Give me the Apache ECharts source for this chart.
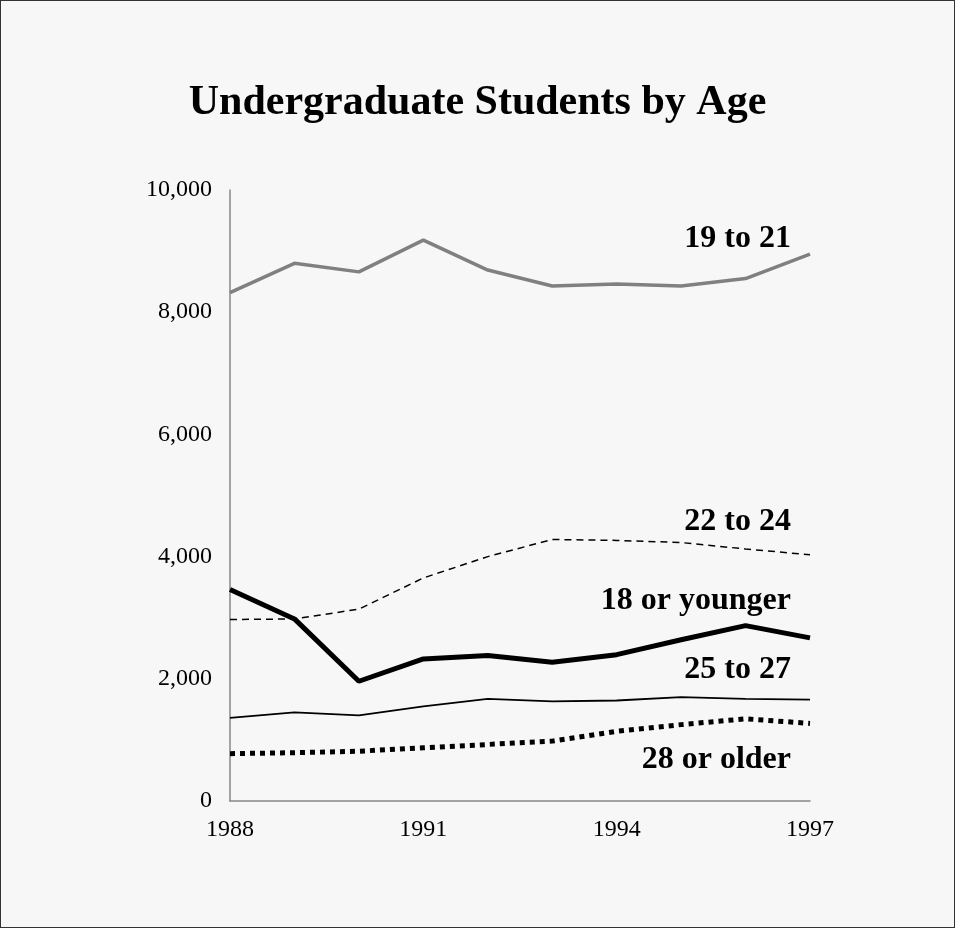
<!DOCTYPE html>
<html>
<head>
<meta charset="utf-8">
<title>Undergraduate Students by Age</title>
<script src="https://cdn.jsdelivr.net/npm/echarts@6/dist/echarts.min.js"></script>
<style>
  html, body { margin: 0; padding: 0; background: #f7f7f7; }
  #chart { width: 953px; height: 926px; border: 1px solid #333; }
</style>
</head>
<body>
<div id="chart"></div>
<script>
var years = ['1988', '1989', '1990', '1991', '1992', '1993', '1994', '1995', '1996', '1997'];

var age19to21 = [8320, 8800, 8660, 9180, 8690, 8430, 8460, 8430, 8550, 8950];
var age22to24 = [2970, 2980, 3140, 3650, 4000, 4280, 4265, 4230, 4125, 4030];
var age18under = [3460, 2980, 1960, 2325, 2380, 2270, 2395, 2640, 2870, 2670];
var age25to27 = [1360, 1450, 1400, 1550, 1670, 1630, 1645, 1700, 1670, 1660];
var age28over = [775, 790, 815, 870, 925, 980, 1140, 1250, 1345, 1270];

var font = '"Liberation Serif", "Times New Roman", serif';

function makeSeries(name, data, color, width, dash, labelOffset) {
    return {
        name: name,
        type: 'line',
        data: data,
        symbol: 'none',
        lineStyle: {
            color: color,
            width: width,
            type: dash
        },
        endLabel: {
            show: true,
            formatter: name,
            align: 'right',
            offset: labelOffset,
            fontFamily: font,
            fontWeight: 'bold',
            fontSize: 32,
            color: '#000'
        }
    };
}

var myChart = echarts.init(document.getElementById('chart'));

var option = {
    animation: false,
    backgroundColor: '#f7f7f7',
    title: {
        text: 'Undergraduate Students by Age',
        left: 'center',
        top: 76,
        textStyle: {
            fontFamily: font,
            fontWeight: 'bold',
            fontSize: 42,
            color: '#000'
        }
    },
    grid: {
        left: 229,
        right: 144,
        top: 189,
        bottom: 126
    },
    xAxis: {
        type: 'category',
        data: years,
        boundaryGap: false,
        axisLine: { lineStyle: { color: '#888', width: 1.5 } },
        axisTick: { show: false },
        axisLabel: {
            interval: 2,
            margin: 17,
            fontFamily: font,
            fontSize: 24,
            color: '#000'
        }
    },
    yAxis: {
        type: 'value',
        min: 0,
        max: 10000,
        interval: 2000,
        axisLine: { show: true, lineStyle: { color: '#888', width: 1.5 } },
        axisTick: { show: false },
        splitLine: { show: false },
        axisLabel: {
            margin: 18,
            fontFamily: font,
            fontSize: 24,
            color: '#000',
            formatter: function(v) { return v.toLocaleString('en-US'); }
        }
    },
    series: [
        makeSeries('19 to 21', age19to21, '#808080', 3.5, 'solid', [-27, -15]),
        makeSeries('22 to 24', age22to24, '#000', 1.5, [7, 5], [-27, -33]),
        makeSeries('18 or younger', age18under, '#000', 5, 'solid', [-27, -37]),
        makeSeries('25 to 27', age25to27, '#000', 1.8, 'solid', [-27, -30]),
        makeSeries('28 or older', age28over, '#000', 5, [5, 5], [-27, 36])
    ]
};

myChart.setOption(option);
</script>
</body>
</html>
